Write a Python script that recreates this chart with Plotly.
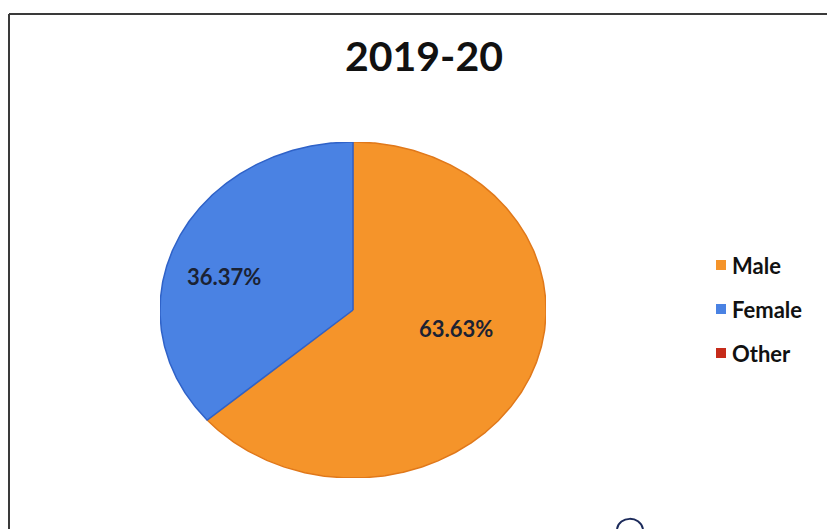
import numpy as np
import plotly.graph_objects as go

# Gender split, 2019-20
categories = ["Male", "Female", "Other"]
values = [63.63, 36.37, 0.0]
colors = ["#F5942A", "#4A82E3", "#C62B1A"]
edge_colors = ["#E0781A", "#2F62C8", "#A01E10"]
title_text = "2019-20"

W, H = 827, 529
# pie bounding box in pixels (left, right, top, bottom)
PX_L, PX_R, PX_T, PX_B = 160, 546, 142, 478
# where each percentage label sits, in pie units
label_pos = [(0.534, -0.113), (-0.671, 0.199), None]
# legend row centres (pixels from top) and swatch/text x positions
legend_rows = [265, 309, 353]
SW_X0, SW_X1, TXT_X = 716, 726, 730

total = sum(values)
fig = go.Figure()

# wedges run clockwise from 12 o'clock; angles measured clockwise from top
start = 0.0
for name, v, c, ec in zip(categories, values, colors, edge_colors):
    frac = v / total
    end = start + frac * 2 * np.pi
    if frac > 0:
        n = max(3, int(frac * 720))
        th = np.linspace(start, end, n)
        xs = np.concatenate([[0], np.sin(th), [0]])
        ys = np.concatenate([[0], np.cos(th), [0]])
        fig.add_trace(go.Scatter(
            x=xs, y=ys, mode="lines", fill="toself", fillcolor=c,
            line=dict(color=ec, width=1.5), name=name, showlegend=False,
            hoverinfo="skip",
        ))
    start = end

# percentage labels inside the slices
for v, pos in zip(values, label_pos):
    if v <= 0 or pos is None:
        continue
    fig.add_annotation(
        x=pos[0], y=pos[1],
        text=f"{v / total * 100:.2f}%", showarrow=False,
        font=dict(family="Lato", size=22, color="#1B2233", weight="bold"),
    )

# legend: coloured squares with category names
for name, c, yc in zip(categories, colors, legend_rows):
    fig.add_shape(type="rect", xref="paper", yref="paper",
                  x0=SW_X0 / W, x1=SW_X1 / W,
                  y0=1 - (yc + 5) / H, y1=1 - (yc - 5) / H,
                  fillcolor=c, line=dict(width=0))
    fig.add_annotation(
        x=TXT_X / W, y=1 - yc / H, xref="paper", yref="paper",
        text=name, showarrow=False, xanchor="left", yanchor="middle",
        font=dict(family="Lato", size=22, color="#111111", weight="bold"),
    )

fig.add_annotation(
    x=424 / W, y=1 - 55 / H, xref="paper", yref="paper",
    text=title_text, showarrow=False, xanchor="center", yanchor="middle",
    font=dict(family="Lato", size=41, color="#111111", weight="bold"),
)

# frame around the chart
fig.add_shape(type="line", xref="paper", yref="paper",
              x0=9 / W, x1=9 / W, y0=0, y1=1 - 14 / H,
              line=dict(color="#3A3A3A", width=2))
fig.add_shape(type="line", xref="paper", yref="paper",
              x0=9 / W, x1=1, y0=1 - 14 / H, y1=1 - 14 / H,
              line=dict(color="#3A3A3A", width=2))

# pen mark at the bottom edge
fig.add_shape(type="path", xref="paper", yref="paper",
              path=f"M {617/W},{0} C {619/W},{13/H} {640/W},{14/H} {643/W},{0}",
              line=dict(color="#1B2A5A", width=2))

fig.update_layout(
    width=W, height=H,
    margin=dict(l=0, r=0, t=0, b=0),
    paper_bgcolor="white", plot_bgcolor="rgba(0,0,0,0)",
    xaxis=dict(domain=[PX_L / W, PX_R / W], range=[-1, 1], visible=False,
               fixedrange=True),
    yaxis=dict(domain=[1 - PX_B / H, 1 - PX_T / H], range=[-1, 1],
               visible=False, fixedrange=True),
    showlegend=False,
)

fig.write_html("out.html")
